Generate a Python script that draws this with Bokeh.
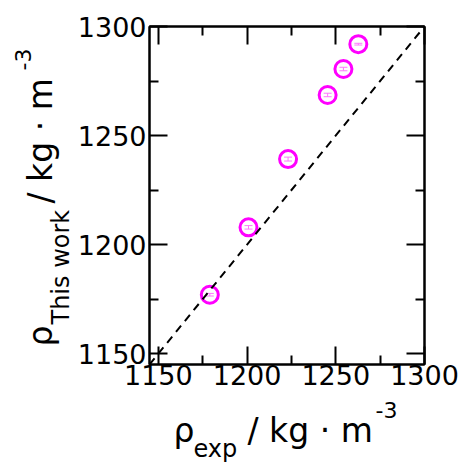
import math
from bokeh.plotting import figure
from bokeh.models import (FixedTicker, LinearAxis, Range1d, Label, Whisker,
                          ColumnDataSource, Slope)
from bokeh.layouts import column, row
from bokeh.embed import file_html
from bokeh.resources import INLINE

# ---- data ----
rho_exp = [1179.0, 1200.8, 1223.1, 1245.4, 1254.3, 1262.7]
rho_this_work = [1177.0, 1207.9, 1239.2, 1268.6, 1280.5, 1291.9]
rho_err = [0.6, 0.8, 0.9, 0.8, 0.8, 0.4]
major_ticks = [1150, 1200, 1250, 1300]
minor_ticks = [1175, 1225, 1275]
axis_min, axis_max = 1145, 1300

FONT = "DejaVu Sans"
MAG = "#ff00ff"

W, H = 463, 462
LEFT_W = 74      # strip holding the y-axis title
MAIN_H = 397     # main plot height; the rest holds the x-axis title
FR_LEFT, FR_TOP, FR_BOTTOM = 147, 26, 364

p = figure(width=W - LEFT_W, height=MAIN_H, output_backend="svg", toolbar_location=None,
           title=None,
           x_range=Range1d(axis_min, axis_max), y_range=Range1d(axis_min, axis_max),
           x_axis_type=None, y_axis_type=None,
           min_border_left=FR_LEFT - LEFT_W, min_border_right=39,
           min_border_top=FR_TOP, min_border_bottom=MAIN_H - FR_BOTTOM)
p.background_fill_color = "white"
p.border_fill_color = "white"
p.grid.visible = False
p.outline_line_color = "black"
p.outline_line_width = 2

ticker = FixedTicker(ticks=major_ticks, minor_ticks=minor_ticks)

def make_axis(show_labels):
    ax = LinearAxis(ticker=ticker)
    ax.axis_line_width = 2
    ax.major_tick_line_width = 2
    ax.minor_tick_line_width = 2
    ax.major_tick_in = 18
    ax.major_tick_out = 0
    ax.minor_tick_in = 9
    ax.minor_tick_out = 0
    ax.major_label_text_font = FONT
    ax.major_label_text_font_size = "27px"
    if show_labels:
        ax.major_label_text_color = "black"
    else:
        ax.major_label_text_color = None
        ax.major_label_standoff = 0
    return ax

xb = make_axis(True); xb.major_label_standoff = 0
yl = make_axis(True); yl.major_label_standoff = 3
xt = make_axis(False)
yr = make_axis(False)
p.add_layout(xb, "below")
p.add_layout(yl, "left")
p.add_layout(xt, "above")
p.add_layout(yr, "right")

# identity line
p.add_layout(Slope(gradient=1, y_intercept=0, line_color="black",
                   line_width=2, line_dash="8 6"))

src = ColumnDataSource(dict(x=rho_exp, y=rho_this_work,
                            lo=[a - e for a, e in zip(rho_this_work, rho_err)],
                            hi=[a + e for a, e in zip(rho_this_work, rho_err)]))
w = Whisker(base="x", lower="lo", upper="hi", dimension="height", source=src,
            line_color="#ff77ff", line_width=1)
for head in (w.upper_head, w.lower_head):
    head.size = 8
    head.line_color = "#ff77ff"
    head.line_width = 1
p.add_layout(w)

p.scatter("x", "y", source=src, size=17, marker="circle", fill_color=None,
          line_color=MAG, line_width=3)


def text_strip(width, height, y0, y1):
    f = figure(width=width, height=height, output_backend="svg", toolbar_location=None,
               title=None,
               x_range=Range1d(0, width), y_range=Range1d(y0, y1),
               x_axis_type=None, y_axis_type=None, min_border=0)
    f.grid.visible = False
    f.outline_line_color = None
    f.background_fill_color = "white"
    f.border_fill_color = "white"
    return f

MID = 0.35  # offset (in em) between rendered anchor and glyph baseline

def lab_h(f, text, x, base_y, size):
    f.add_layout(Label(x=x, y=base_y + MID * size, text=text, text_font=FONT,
                       text_font_size=f"{size}px", text_color="black",
                       text_align="left", text_baseline="alphabetic"))

def lab_v(f, text, base_x, y, size):
    f.add_layout(Label(x=base_x - MID * size, y=y, text=text, text_font=FONT,
                       text_font_size=f"{size}px", text_color="black",
                       text_align="left", text_baseline="alphabetic",
                       angle=math.pi / 2))

# x-axis title strip: data y = H - canvas y
bx = text_strip(W, H - MAIN_H, 0, H - MAIN_H)
lab_h(bx, "ρ", 173, H - 442, 33)
lab_h(bx, "exp", 193, H - 457, 24)
lab_h(bx, "/ kg · m", 247, H - 442, 33)
lab_h(bx, "-3", 375, H - 417, 22)

# y-axis title strip (its frame is aligned with the main frame): data y = MAIN_H - canvas y
ly = text_strip(LEFT_W, MAIN_H, MAIN_H - FR_BOTTOM, MAIN_H - FR_TOP)
lab_v(ly, "ρ", 52, MAIN_H - 346, 33)
lab_v(ly, "This work", 69, MAIN_H - 324, 24)
lab_v(ly, "/ kg · m", 52, MAIN_H - 203, 33)
lab_v(ly, "-3", 30, MAIN_H - 70, 22)

layout = column(row(ly, p, spacing=0), bx, spacing=0)
open("out.html", "w").write(file_html(layout, INLINE))
